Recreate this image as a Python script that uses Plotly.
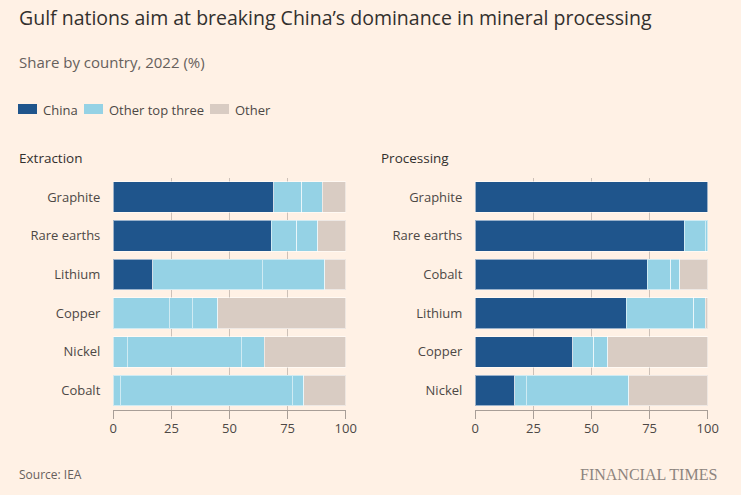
import plotly.graph_objects as go

# ---------------- data ----------------
ext_minerals = ["Graphite", "Rare earths", "Lithium", "Copper", "Nickel", "Cobalt"]
ext_china = [69, 68, 17, 0, 0, 0]
ext_top_a = [12, 11, 47, 24, 6, 3]
ext_top_b = [9, 9, 27, 10, 49, 74]
ext_top_c = [0, 0, 0, 11, 10, 5]
ext_other = [10, 12, 9, 55, 35, 18]

proc_minerals = ["Graphite", "Rare earths", "Cobalt", "Lithium", "Copper", "Nickel"]
proc_china = [100, 90, 74, 65, 42, 17]
proc_top_a = [0, 9, 10, 29, 9, 5]
proc_top_b = [0, 1, 4, 5, 6, 44]
proc_top_c = [0, 0, 0, 0, 0, 0]
proc_other = [0, 0, 12, 1, 43, 34]

x_ticks = [0, 25, 50, 75, 100]
legend_labels = ["China", "Other top three", "Other"]

# ---------------- style ----------------
W, H = 741, 495
BG = "#fff1e5"
C_CHINA = "#1f558c"
C_TOP = "#95d2e5"
C_OTHER = "#d9ccc3"
GRID = "#cdc1b8"
AXIS = "#a89e97"
TXT_DARK = "#33302e"
TXT_MID = "#4d4845"
TXT_LIGHT = "#66605c"
FONT = "Open Sans, Roboto, sans-serif"


def px(x):
    return x / W


def py(y):
    return 1 - y / H


def nz(vals):
    return [v if v else None for v in vals]


fig = go.Figure()

panels = [
    ("x", "y", ext_minerals, [ext_china, ext_top_a, ext_top_b, ext_top_c, ext_other]),
    ("x2", "y2", proc_minerals, [proc_china, proc_top_a, proc_top_b, proc_top_c, proc_other]),
]
names = ["China", "Other top three", "Other top three", "Other top three", "Other"]
colors = [C_CHINA, C_TOP, C_TOP, C_TOP, C_OTHER]

for xa, ya, cats, series in panels:
    for name, col, vals in zip(names, colors, series):
        fig.add_trace(go.Bar(
            y=cats, x=nz(vals), orientation="h", name=name,
            marker=dict(color=col, line=dict(color="rgba(255,255,255,0.55)", width=1)),
            xaxis=xa, yaxis=ya, showlegend=False,
            hovertemplate="%{y}: %{x}%<extra>" + name + "</extra>",
        ))

ydom = [1 - 410 / H, 1 - 177.7 / H]
axis_common_x = dict(
    range=[0, 100], tickvals=x_ticks, ticktext=[str(t) for t in x_ticks],
    showgrid=True, gridcolor=GRID, gridwidth=1, zeroline=False,
    showline=True, linecolor=AXIS, linewidth=1,
    ticks="outside", ticklen=8, tickcolor=AXIS, tickwidth=1,
    ticklabelstandoff=-2,
    tickfont=dict(family=FONT, size=13, color=TXT_MID),
    fixedrange=True, automargin=False,
)
axis_common_y = dict(
    autorange="reversed", showgrid=False, zeroline=False, showline=False,
    ticks="", ticklabelstandoff=12,
    tickfont=dict(family=FONT, size=13, color=TXT_MID),
    domain=ydom, fixedrange=True, automargin=False,
)

fig.update_layout(
    width=W, height=H,
    margin=dict(l=0, r=0, t=0, b=0),
    paper_bgcolor=BG, plot_bgcolor=BG,
    barmode="stack", bargap=0.21,
    showlegend=False,
    xaxis=dict(axis_common_x, domain=[113.3 / W, 345.7 / W], anchor="y"),
    yaxis=dict(axis_common_y, anchor="x", categoryorder="array", categoryarray=ext_minerals),
    xaxis2=dict(axis_common_x, domain=[475.3 / W, 707.7 / W], anchor="y2"),
    yaxis2=dict(axis_common_y, anchor="x2", categoryorder="array", categoryarray=proc_minerals),
    font=dict(family=FONT, color=TXT_DARK),
)

annotations = [
    dict(text="Gulf nations aim at breaking China’s dominance in mineral processing",
         x=px(17), y=py(17), font=dict(size=19.5, color=TXT_DARK)),
    dict(text="Share by country, 2022 (%)", x=px(17), y=py(62),
         font=dict(size=15, color=TXT_LIGHT)),
    dict(text="Extraction", x=px(17), y=py(158), font=dict(size=13.5, color=TXT_DARK)),
    dict(text="Processing", x=px(379), y=py(158), font=dict(size=13.5, color=TXT_DARK)),
    dict(text="Source: IEA", x=px(17), y=py(474), font=dict(size=12, color=TXT_LIGHT)),
    dict(text="FINANCIAL TIMES", x=px(719), y=py(474), xanchor="right",
         font=dict(size=16, color="#8d847e", family="Liberation Serif, DejaVu Serif, serif")),
]

# manual legend
legend_colors = [C_CHINA, C_TOP, C_OTHER]
sw_x = [18, 84, 210]
shapes = []
for lab, col, x0 in zip(legend_labels, legend_colors, sw_x):
    shapes.append(dict(type="rect", xref="paper", yref="paper",
                       x0=px(x0), x1=px(x0 + 19), y0=py(114), y1=py(104),
                       fillcolor=col, line=dict(width=0)))
    annotations.append(dict(text=lab, x=px(x0 + 23), y=py(110),
                            font=dict(size=13, color=TXT_MID)))

for a in annotations:
    a.setdefault("xanchor", "left")
    a.setdefault("yanchor", "middle")
    a.update(xref="paper", yref="paper", showarrow=False)

fig.update_layout(annotations=annotations, shapes=shapes)

fig.write_html(
    "out.html",
    config={"displayModeBar": False},
    post_script="document.body.style.margin='0';document.body.style.padding='0';",
)
